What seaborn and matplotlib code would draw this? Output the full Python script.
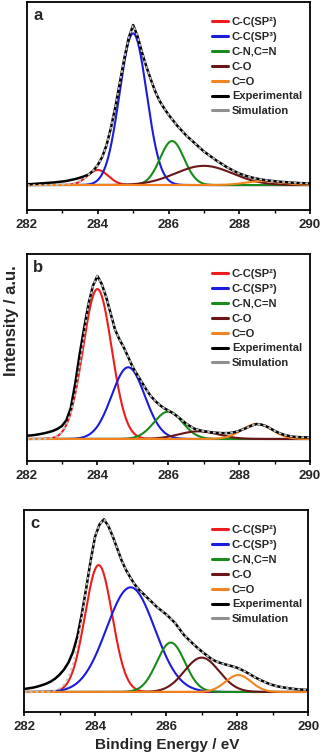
import numpy as np
import pandas as pd
import seaborn as sns
import matplotlib.pyplot as plt

sns.set_style("ticks")
plt.rcParams['font.family'] = ['Liberation Sans', 'DejaVu Sans']
plt.rcParams['font.weight'] = 'bold'

# energies (eV) at which experimental / simulated curves were read, 0.125 eV apart
energy = np.linspace(282, 290, 65)

names = ['C-C(SP²)', 'C-C(SP³)', 'C-N,C=N', 'C-O', 'C=O']
comp_colors = ['#ee1c1c', '#1c1cdc', '#1a8a1a', '#6a1616', '#f0841e']

# fitted components: centre (eV), height (a.u.), FWHM (eV)
a_centers = [284.0, 285.0, 286.1, 287.0, 288.7]
a_heights = [0.094, 0.948, 0.275, 0.12, 0.025]
a_fwhm = [0.7, 0.9, 0.8, 1.9, 1.2]
a_exp = [0.005, 0.006, 0.008, 0.010, 0.012, 0.014, 0.016, 0.019,
         0.022, 0.026, 0.032, 0.038, 0.046, 0.055, 0.067, 0.090,
         0.125, 0.175, 0.25, 0.36, 0.49, 0.64, 0.79, 0.92,
         1.00, 0.93, 0.83, 0.74, 0.66, 0.585, 0.525, 0.48,
         0.44, 0.405, 0.37, 0.34, 0.31, 0.285, 0.26, 0.235,
         0.21, 0.19, 0.17, 0.15, 0.133, 0.115, 0.10, 0.085,
         0.072, 0.062, 0.053, 0.046, 0.040, 0.035, 0.030, 0.027,
         0.024, 0.021, 0.019, 0.017, 0.015, 0.013, 0.012, 0.011, 0.010]
# simulated envelope differs from experiment only on the low-energy tail
a_sim_tail = [0.0, 0.0, 0.0, 0.0, 0.0, 0.001, 0.002, 0.003,
              0.004, 0.006, 0.008, 0.013, 0.023, 0.042]

b_centers = [284.0, 284.87, 286.0, 286.85, 288.5]
b_heights = [0.92, 0.44, 0.168, 0.047, 0.092]
b_fwhm = [0.95, 1.1, 0.95, 1.3, 1.0]
b_exp = [0.020, 0.022, 0.025, 0.030, 0.035, 0.042, 0.050, 0.062,
         0.080, 0.115, 0.19, 0.34, 0.52, 0.68, 0.83, 0.94,
         1.00, 0.95, 0.87, 0.77, 0.67, 0.61, 0.56, 0.50,
         0.44, 0.395, 0.35, 0.305, 0.265, 0.235, 0.21, 0.19,
         0.175, 0.16, 0.14, 0.118, 0.095, 0.077, 0.062, 0.054,
         0.048, 0.044, 0.040, 0.038, 0.036, 0.036, 0.037, 0.042,
         0.050, 0.060, 0.072, 0.084, 0.092, 0.088, 0.080, 0.066,
         0.050, 0.037, 0.027, 0.020, 0.015, 0.012, 0.011, 0.010, 0.010]
b_sim_tail = [0.0, 0.0, 0.0, 0.0, 0.001, 0.003, 0.008, 0.019,
              0.043, 0.088, 0.16, 0.28, 0.45, 0.64]

c_centers = [284.1, 285.0, 286.13, 287.0, 288.03]
c_heights = [0.735, 0.606, 0.286, 0.199, 0.098]
c_fwhm = [0.9, 1.6, 0.93, 1.15, 0.85]
c_exp = [0.017, 0.021, 0.025, 0.031, 0.039, 0.048, 0.060, 0.077,
         0.10, 0.13, 0.17, 0.23, 0.32, 0.45, 0.60, 0.76,
         0.90, 0.97, 1.00, 0.96, 0.90, 0.83, 0.76, 0.705,
         0.66, 0.62, 0.59, 0.565, 0.54, 0.515, 0.49, 0.47,
         0.45, 0.425, 0.40, 0.365, 0.33, 0.305, 0.28, 0.257,
         0.235, 0.215, 0.195, 0.18, 0.17, 0.162, 0.155, 0.148,
         0.14, 0.128, 0.115, 0.10, 0.085, 0.072, 0.06, 0.049,
         0.04, 0.033, 0.028, 0.024, 0.02, 0.017, 0.015, 0.013, 0.012]
c_sim_tail = [0.0, 0.0, 0.0, 0.0, 0.001, 0.001, 0.004, 0.009,
              0.02, 0.042, 0.084, 0.156, 0.27, 0.43]

panels = [
    ('a', a_centers, a_heights, a_fwhm, a_exp, a_sim_tail, [27, 2, 310, 210], (-0.156, 1.144)),
    ('b', b_centers, b_heights, b_fwhm, b_exp, b_sim_tail, [26.5, 254, 310, 461], (-0.135, 1.135)),
    ('c', c_centers, c_heights, c_fwhm, c_exp, c_sim_tail, [24, 510, 308.3, 712], (-0.116, 1.054)),
]

W, H = 321, 756
fig = plt.figure(figsize=(W / 100, H / 100), dpi=100)
grid = np.linspace(282, 290, 801)

for tag, cen, hgt, fw, exp_y, tail, box, ylim in panels:
    x0, y0, x1, y1 = box
    ax = fig.add_axes([x0 / W, 1 - y1 / H, (x1 - x0) / W, (y1 - y0) / H])
    for name, col, c, h, w in zip(names, comp_colors, cen, hgt, fw):
        peak = h * 2.0 ** (-(2 * (grid - c) / w) ** 2)
        sns.lineplot(x=grid, y=peak, ax=ax, color=col, lw=1.5, label=name)
    sim_y = tail + exp_y[len(tail):]
    sns.lineplot(x=energy, y=exp_y, ax=ax, color='black', lw=1.8, label='Experimental')
    sns.lineplot(x=energy, y=sim_y, ax=ax, color='#c4c4c4', lw=1.3,
                 linestyle=(0, (1.5, 1.7)), label='Simulation')

    ax.set_xlim(282, 290)
    ax.set_ylim(*ylim)
    ax.set_xticks([282, 284, 286, 288, 290])
    ax.set_xticks([283, 285, 287, 289], minor=True)
    ax.set_yticks([])
    ax.set_xlabel('')
    ax.set_ylabel('')
    ax.tick_params(axis='x', which='major', direction='out', length=3, width=1.2,
                   pad=3.5, labelsize=9.5, color='black')
    ax.tick_params(axis='x', which='minor', direction='out', length=2, width=1.0, color='black')
    for lab in ax.get_xticklabels():
        lab.set_fontweight('bold')
    for s in ax.spines.values():
        s.set_visible(True)
        s.set_color('black')
        s.set_linewidth(1.3)

    leg = ax.legend(loc='upper left',
                    bbox_to_anchor=((212 - x0) / (x1 - x0), 1 - 15 / (y1 - y0)),
                    frameon=False, fontsize=8, handlelength=1.45, handletextpad=0.35,
                    labelspacing=0.44, borderpad=0, borderaxespad=0)
    for ln in leg.get_lines():
        ln.set_linewidth(2.2)
        ln.set_linestyle('-')
    leg.get_lines()[-1].set_color('#8f8f8f')

    ax.text(0.022, 0.97, tag, transform=ax.transAxes, ha='left', va='top',
            fontsize=12, fontweight='bold')

fig.text(12 / W, 1 - 321 / H, 'Intensity / a.u.', rotation=90, ha='center', va='center',
         fontsize=12, fontweight='bold')
fig.text(167 / W, 1 - 745 / H, 'Binding Energy / eV', ha='center', va='center',
         fontsize=11, fontweight='bold')

fig.savefig('out.png', dpi=100)
